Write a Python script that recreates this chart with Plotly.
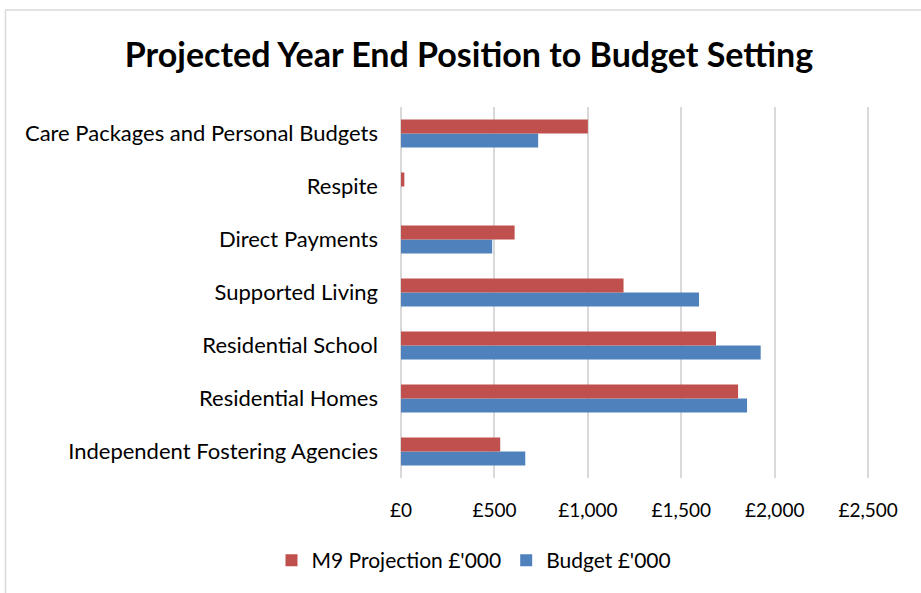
import plotly.graph_objects as go

# Data (values in £'000), categories listed top to bottom as in the chart
categories = [
    'Care Packages and Personal Budgets',
    'Respite',
    'Direct Payments',
    'Supported Living',
    'Residential School',
    'Residential Homes',
    'Independent Fostering Agencies',
]
m9_projection = [1000, 18, 608, 1191, 1686, 1804, 531]
budget = [734, 0, 488, 1595, 1925, 1852, 665]
x_ticks = [0, 500, 1000, 1500, 2000, 2500]
x_tick_labels = ['£0', '£500', '£1,000', '£1,500', '£2,000', '£2,500']

RED = '#C0504D'
BLUE = '#4F81BD'
GRID = '#D9D9D9'
FONT = 'Lato, "Open Sans", sans-serif'

W, H = 921, 593
L, R, T, B = 401, 51, 107, 113

fig = go.Figure()
# budget first so it sits below the projection bar in each group
fig.add_trace(go.Bar(y=categories, x=budget, name="Budget £'000",
                     orientation='h', marker=dict(color=BLUE, line=dict(width=0))))
fig.add_trace(go.Bar(y=categories, x=m9_projection, name="M9 Projection £'000",
                     orientation='h', marker=dict(color=RED, line=dict(width=0))))

# chart frame (cropped on the right and bottom in the reference)
pw, ph = W - L - R, H - T - B
fx0 = (5.5 - L) / pw
fy1 = 1 + (T - 9.5) / ph
fig.add_shape(type='line', xref='paper', yref='paper', x0=fx0, x1=fx0, y0=-2, y1=fy1,
              line=dict(color=GRID, width=1.5))
fig.add_shape(type='line', xref='paper', yref='paper', x0=fx0, x1=3, y0=fy1, y1=fy1,
              line=dict(color=GRID, width=1.5))

fig.update_layout(
    width=W, height=H,
    margin=dict(l=L, r=R, t=T, b=B),
    paper_bgcolor='white', plot_bgcolor='white',
    font=dict(family=FONT, size=18, color='#000000'),
    title=dict(text='<b>Projected Year End Position to Budget Setting</b>',
               x=469 / W, xref='container', xanchor='center',
               y=1 - 55 / H, yref='container', yanchor='middle',
               font=dict(family=FONT, size=34, color='#000000')),
    barmode='group', bargap=0.47, bargroupgap=0,
    xaxis=dict(range=[0, 2510], tickvals=x_ticks, ticktext=x_tick_labels,
               showgrid=True, gridcolor=GRID, gridwidth=2,
               zeroline=True, zerolinecolor=GRID, zerolinewidth=2,
               showline=False, ticks='', ticklabelstandoff=19,
               tickfont=dict(size=19), fixedrange=True),
    yaxis=dict(type='category', categoryorder='array', categoryarray=categories[::-1],
               showgrid=False, zeroline=False, showline=False, ticks='',
               ticklabelstandoff=22, tickfont=dict(size=22), fixedrange=True),
    legend=dict(orientation='h', traceorder='reversed',
                x=(474 - L) / pw, xanchor='center',
                y=-(563 - (H - B)) / ph, yanchor='middle',
                font=dict(size=21), itemwidth=30),
    showlegend=True,
)

fig.write_html('out.html', config={'displayModeBar': False},
               post_script="document.body.style.margin='0';")
